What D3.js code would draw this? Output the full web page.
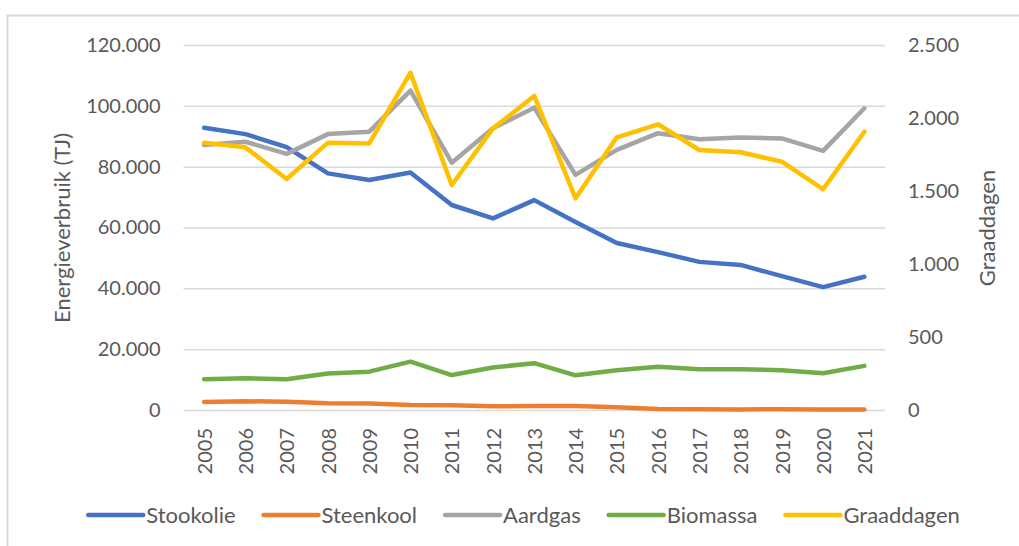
<!DOCTYPE html>
<html>
<head>
<meta charset="utf-8">
<script src="https://cdn.jsdelivr.net/npm/d3@7"></script>
<style>
  body { margin: 0; background: #fff; }
  svg text { font-family: Lato, "Open Sans", sans-serif; fill: #595959; }
</style>
</head>
<body>
<div id="chart"></div>
<script>
// data
var years = ['2005', '2006', '2007', '2008', '2009', '2010', '2011', '2012', '2013',
             '2014', '2015', '2016', '2017', '2018', '2019', '2020', '2021'];
var stookolie = [92800, 90700, 86400, 77800, 75600, 78100, 67400, 63000, 69000,
                 61800, 54900, 51900, 48700, 47700, 44000, 40400, 43800];
var steenkool = [2640, 2860, 2750, 2200, 2100, 1650, 1540, 1200, 1300,
                 1300, 880, 330, 220, 200, 250, 200, 200];
var aardgas = [87100, 88200, 84200, 90700, 91500, 105000, 81300, 92600, 99400,
               77300, 85500, 91000, 89000, 89600, 89300, 85200, 99200];
var biomassa = [10100, 10400, 10100, 12000, 12600, 15900, 11500, 14000, 15400,
                11400, 13100, 14200, 13400, 13400, 13100, 12100, 14500];
var graaddagen = [1831, 1799, 1582, 1831, 1826, 2310, 1541, 1929, 2151,
                  1450, 1868, 1957, 1781, 1765, 1701, 1512, 1906];
var leftTicks = [0, 20000, 40000, 60000, 80000, 100000, 120000];
var rightTicks = [0, 500, 1000, 1500, 2000, 2500];

var series = [
    {name: 'Stookolie', values: stookolie, color: '#4472C4', axis: 'left'},
    {name: 'Steenkool', values: steenkool, color: '#ED7D31', axis: 'left'},
    {name: 'Aardgas', values: aardgas, color: '#A5A5A5', axis: 'left'},
    {name: 'Biomassa', values: biomassa, color: '#70AD47', axis: 'left'},
    {name: 'Graaddagen', values: graaddagen, color: '#FFC000', axis: 'right'}
];

var width_svg = 1019, height_svg = 546;
var plot = {left: 183.5, right: 885, top: 45, bottom: 410};

var nl = d3.formatLocale({decimal: ',', thousands: '.', grouping: [3], currency: ['€', '']});
var fmt = nl.format(',d');

var svg = d3.select('#chart')
    .append('svg')
    .attr('width', width_svg)
    .attr('height', height_svg);

// chart frame
svg.append('rect')
    .attr('x', 7.5).attr('y', 15.5)
    .attr('width', 1040).attr('height', 560)
    .attr('fill', 'none')
    .attr('stroke', '#d9d9d9')
    .attr('stroke-width', 2);

var x = d3.scalePoint()
    .domain(years)
    .range([plot.left, plot.right])
    .padding(0.5);

var yLeft = d3.scaleLinear().domain([0, 120000]).range([plot.bottom, plot.top]);
var yRight = d3.scaleLinear().domain([0, 2500]).range([plot.bottom, plot.top]);

// gridlines + left axis
var gLeft = svg.append('g')
    .attr('transform', 'translate(' + plot.left + ',0)')
    .call(d3.axisLeft(yLeft)
        .tickValues(leftTicks)
        .tickFormat(fmt)
        .tickSize(-(plot.right - plot.left))
        .tickPadding(23));
gLeft.select('.domain').remove();
gLeft.selectAll('line').attr('stroke', '#d9d9d9').attr('stroke-width', 1.5);
gLeft.selectAll('text').style('font-size', '20px').attr('fill', '#595959');

// right axis
var gRight = svg.append('g')
    .attr('transform', 'translate(' + plot.right + ',0)')
    .call(d3.axisRight(yRight)
        .tickValues(rightTicks)
        .tickFormat(fmt)
        .tickSize(0)
        .tickPadding(23));
gRight.select('.domain').remove();
gRight.selectAll('text').style('font-size', '20px').attr('fill', '#595959');

// x axis, rotated labels
var gX = svg.append('g')
    .attr('transform', 'translate(0,' + plot.bottom + ')')
    .call(d3.axisBottom(x).tickSize(0).tickPadding(0));
gX.select('.domain').remove();
gX.selectAll('text')
    .style('font-size', '20px')
    .attr('fill', '#595959')
    .attr('text-anchor', 'end')
    .attr('transform', 'rotate(-90)')
    .attr('x', -18)
    .attr('y', 0)
    .attr('dy', '0.36em');

// axis titles
svg.append('text')
    .attr('transform', 'translate(70,228) rotate(-90)')
    .attr('text-anchor', 'middle')
    .style('font-size', '22px')
    .text('Energieverbruik (TJ)');

svg.append('text')
    .attr('transform', 'translate(995,228) rotate(-90)')
    .attr('text-anchor', 'middle')
    .style('font-size', '22px')
    .text('Graaddagen');

// lines
series.forEach(function (s) {
    var y = s.axis === 'left' ? yLeft : yRight;
    var line = d3.line()
        .x(function (d, i) { return x(years[i]); })
        .y(function (d) { return y(d); });
    svg.append('path')
        .datum(s.values)
        .attr('d', line)
        .attr('fill', 'none')
        .attr('stroke', s.color)
        .attr('stroke-width', 4.5)
        .attr('stroke-linejoin', 'round')
        .attr('stroke-linecap', 'round');
});

// legend
var legend = svg.append('g');
var items = legend.selectAll('g')
    .data(series)
    .join('g');
items.append('line')
    .attr('x1', 0).attr('x2', 55)
    .attr('y1', 0).attr('y2', 0)
    .attr('stroke', function (d) { return d.color; })
    .attr('stroke-width', 4.5)
    .attr('stroke-linecap', 'round');
items.append('text')
    .attr('x', 58)
    .attr('dy', '0.35em')
    .style('font-size', '22px')
    .text(function (d) { return d.name; });

var gap = 28;
var pos = 0;
items.each(function () {
    var w = 58 + d3.select(this).select('text').node().getComputedTextLength();
    d3.select(this).attr('transform', 'translate(' + pos + ',0)');
    pos += w + gap;
});
var total = pos - gap;
legend.attr('transform', 'translate(' + (524 - total / 2) + ',515)');
</script>
</body>
</html>
